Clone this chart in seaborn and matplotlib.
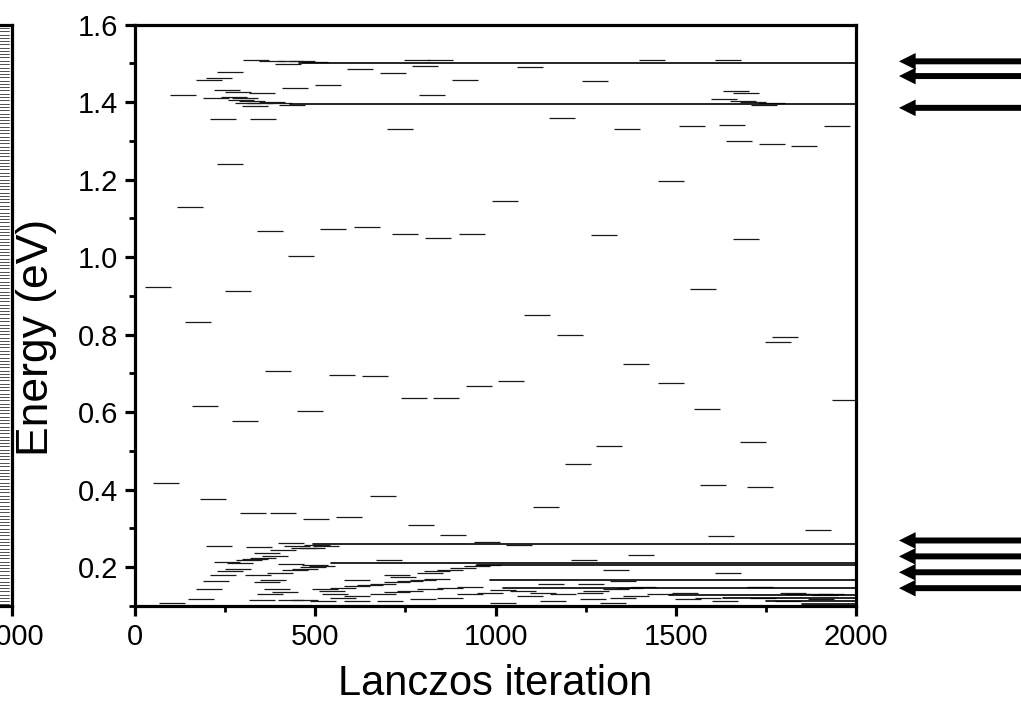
import matplotlib
matplotlib.use("Agg")
import matplotlib.pyplot as plt
import numpy as np
import pandas as pd
import seaborn as sns

# Converged eigenvalues (eV) and the iteration where each settles
level_energy = [1.501, 1.396, 0.260, 0.212, 0.206, 0.168, 0.146, 0.129, 0.120, 0.112, 0.106]
level_start = [455, 430, 495, 545, 950, 985, 1020, 1480, 1630, 1750, 1850]

# Isolated (spurious) Ritz values
spur_iter = [264, 233, 205, 624, 715, 782, 846, 805, 915, 133, 443, 535, 824, 244, 355, 735, 264,
             1434, 1645, 1096, 1276, 1667, 1695, 1634, 1184, 1365, 1545, 1656, 1947, 1675, 1767, 1856,
             64, 86, 152, 175, 194, 216, 286, 305, 327, 375, 397, 411, 460, 485, 502, 549, 574, 593,
             644, 666, 688, 749, 774, 793, 841, 863, 882, 935, 954, 976, 1026, 1043, 1115, 1140,
             1207, 1229, 1301, 1315, 1390, 1404, 1487, 1487, 1576, 1587, 1603, 1625, 1695, 1714,
             1734, 1784, 1803, 1895, 1970, 1065, 1246, 1335, 1645, 1734, 705, 616]
spur_energy = [1.478, 1.461, 1.458, 1.486, 1.476, 1.508, 1.509, 1.493, 1.457, 1.419, 1.437, 1.443, 1.419,
               1.356, 1.356, 1.331, 1.239,
               1.508, 1.508, 1.491, 1.455, 1.429, 1.424, 1.409, 1.360, 1.330, 1.339, 1.342, 1.338,
               1.299, 1.291, 1.287,
               0.923, 0.418, 1.130, 0.833, 0.617, 0.377, 0.913, 0.578, 0.341, 1.068, 0.707, 0.341,
               1.004, 0.603, 0.325, 1.073, 0.697, 0.329, 1.078, 0.694, 0.385, 1.060, 0.637, 0.310,
               1.050, 0.637, 0.284, 1.060, 0.668, 0.264, 1.144, 0.681, 0.850, 0.356, 0.799, 0.466,
               1.058, 0.514, 0.725, 0.231, 0.676, 1.197, 0.918, 0.609, 0.411, 0.280, 1.047, 0.523,
               0.408, 0.782, 0.795, 0.295, 0.632, 0.257, 0.218, 0.192, 0.185, 0.150, 0.218, 0.168]

# Ritz values drifting onto the converged levels
tail_iter = [335, 380, 433, 463, 424, 500,
             225, 255, 275, 286, 294, 305, 313, 324, 333, 347, 352, 380, 400, 435,
             1715, 1745, 1767, 1687,
             103, 183, 205, 225, 244, 264, 286, 233, 344, 433, 450, 366, 411, 469,
             255, 291, 316, 333, 355, 388, 432, 341, 402, 444, 472, 366, 383, 394, 416, 375,
             352, 433, 472,
             505, 530, 490, 500, 495, 520,
             547, 577, 616, 652, 689, 727, 763, 800, 838,
             727, 744, 819, 838, 874, 911, 948, 980,
             522, 577, 616, 689, 727, 763, 819, 874, 930,
             616, 708, 800, 874, 930, 985, 527, 555,
             1154, 1265, 1354, 1021, 1076, 1132, 1095, 1187, 1262, 1280, 1335, 1372, 1410,
             1160, 1270, 1354, 1391, 1456, 1021, 1326,
             1525, 1636, 1825, 1840, 1900, 1914, 1930, 1742, 1534, 1590, 1811, 1903]
tail_energy = [1.508, 1.507, 1.506, 1.505, 1.497, 1.503,
               1.410, 1.430, 1.413, 1.427, 1.405, 1.411, 1.398, 1.403, 1.391, 1.398, 1.423, 1.400,
               1.397, 1.393,
               1.400, 1.393, 1.398, 1.403,
               0.108, 0.119, 0.144, 0.165, 0.179, 0.189, 0.196, 0.256, 0.253, 0.263, 0.256, 0.237,
               0.244, 0.250,
               0.214, 0.211, 0.218, 0.222, 0.225, 0.230, 0.208, 0.179, 0.186, 0.192, 0.196, 0.163,
               0.168, 0.143, 0.137, 0.130,
               0.116, 0.116, 0.116,
               0.257, 0.254, 0.250, 0.206, 0.200, 0.204,
               0.139, 0.147, 0.151, 0.155, 0.158, 0.161, 0.164, 0.168, 0.169,
               0.179, 0.174, 0.186, 0.190, 0.194, 0.198, 0.202, 0.205,
               0.112, 0.121, 0.126, 0.130, 0.136, 0.139, 0.143, 0.147, 0.149,
               0.114, 0.112, 0.117, 0.121, 0.130, 0.134, 0.144, 0.130,
               0.157, 0.157, 0.164, 0.142, 0.139, 0.134, 0.126, 0.130, 0.133, 0.139, 0.143, 0.147,
               0.150,
               0.114, 0.117, 0.121, 0.126, 0.130, 0.109, 0.109,
               0.134, 0.114, 0.134, 0.131, 0.130, 0.128, 0.132, 0.121, 0.117, 0.121, 0.114, 0.119]

# Dense spectrum shown in the neighbouring panel (eV)
ladder_energy = [
    0.104, 0.112, 0.121, 0.129, 0.138, 0.146, 0.155, 0.163, 0.172, 0.180,
    0.189, 0.197, 0.206, 0.214, 0.223, 0.231, 0.240, 0.248, 0.257, 0.265,
    0.274, 0.282, 0.291, 0.299, 0.308, 0.316, 0.325, 0.333, 0.342, 0.350,
    0.359, 0.367, 0.376, 0.384, 0.393, 0.401, 0.410, 0.418, 0.427, 0.435,
    0.444, 0.452, 0.461, 0.469, 0.478, 0.486, 0.495, 0.503, 0.512, 0.520,
    0.529, 0.537, 0.546, 0.554, 0.563, 0.571, 0.580, 0.588, 0.597, 0.605,
    0.614, 0.622, 0.631, 0.639, 0.648, 0.656, 0.665, 0.673, 0.682, 0.690,
    0.699, 0.707, 0.716, 0.724, 0.733, 0.741, 0.750, 0.758, 0.767, 0.775,
    0.784, 0.792, 0.801, 0.809, 0.818, 0.826, 0.835, 0.843, 0.852, 0.860,
    0.869, 0.877, 0.886, 0.894, 0.903, 0.911, 0.920, 0.928, 0.937, 0.945,
    0.954, 0.962, 0.971, 0.979, 0.988, 0.996, 1.005, 1.013, 1.022, 1.030,
    1.039, 1.047, 1.056, 1.064, 1.073, 1.081, 1.090, 1.098, 1.107, 1.115,
    1.124, 1.132, 1.141, 1.149, 1.158, 1.166, 1.175, 1.183, 1.192, 1.200,
    1.209, 1.217, 1.226, 1.234, 1.243, 1.251, 1.260, 1.268, 1.277, 1.285,
    1.294, 1.302, 1.311, 1.319, 1.328, 1.336, 1.345, 1.353, 1.362, 1.370,
    1.379, 1.387, 1.396, 1.404, 1.413, 1.421, 1.430, 1.438, 1.447, 1.455,
    1.464, 1.472, 1.481, 1.489, 1.498, 1.506, 1.515, 1.523, 1.532, 1.540,
    1.549, 1.557, 1.566, 1.574, 1.583, 1.591,
]

# Target states marked with arrows (eV)
marked_levels = [1.505, 1.467, 1.385, 0.269, 0.228, 0.187, 0.146]

x_ticks = [0, 500, 1000, 1500, 2000]
x_minor = [250, 750, 1250, 1750]
y_ticks = [0.2, 0.4, 0.6, 0.8, 1.0, 1.2, 1.4, 1.6]
y_minor = [0.1, 0.3, 0.5, 0.7, 0.9, 1.1, 1.3, 1.5]

sns.set_style("ticks")
plt.rcParams["font.family"] = ["Liberation Sans", "DejaVu Sans"]
plt.rcParams.update({
    "axes.linewidth": 2.3,
    "axes.edgecolor": "black",
    "axes.labelcolor": "black",
    "text.color": "black",
    "xtick.color": "black",
    "ytick.color": "black",
})

W, H = 1021, 717
fig = plt.figure(figsize=(W / 100, H / 100), dpi=100)

x0, x1 = 135, 856
y_top, y_bot = 24.5, 606
ax = fig.add_axes([x0 / W, 1 - y_bot / H, (x1 - x0) / W, (y_bot - y_top) / H])

ritz = pd.DataFrame({
    "iteration": spur_iter + tail_iter,
    "energy": spur_energy + tail_energy,
})
sns.scatterplot(data=ritz, x="iteration", y="energy", marker="_", s=350,
                color="#1a1a1a", linewidth=0.9, ax=ax, legend=False, zorder=3)

rows = []
for k, (e, s) in enumerate(zip(level_energy, level_start)):
    rows.append({"level": k, "iteration": s, "energy": e})
    rows.append({"level": k, "iteration": 2000, "energy": e})
lines = pd.DataFrame(rows)
sns.lineplot(data=lines, x="iteration", y="energy", units="level", estimator=None,
             color="black", linewidth=1.2, ax=ax, legend=False, zorder=4)

ax.set_xlim(0, 2000)
ax.set_ylim(0.1, 1.6)
ax.set_xticks(x_ticks)
ax.set_xticks(x_minor, minor=True)
ax.set_yticks(y_ticks)
ax.set_yticklabels([f"{v:.1f}" for v in y_ticks])
ax.set_yticks(y_minor, minor=True)
ax.tick_params(which="major", direction="out", length=7, width=2.3, labelsize=21, pad=5)
ax.tick_params(which="minor", direction="out", length=4, width=2.0)
for sp in ax.spines.values():
    sp.set_visible(True)
    sp.set_linewidth(2.3)

ax.set_xlabel("Lanczos iteration", fontsize=30)
ax.set_ylabel("Energy (eV)", fontsize=32)
ax.xaxis.set_label_coords(0.5, -0.10)
ax.yaxis.set_label_coords(-0.108, 0.461)

# Arrows marking the target states
for e in marked_levels:
    ax.annotate("", xy=(1.0596, e), xytext=(1.30, e),
                xycoords=ax.get_yaxis_transform(), textcoords=ax.get_yaxis_transform(),
                annotation_clip=False,
                arrowprops=dict(arrowstyle="simple,head_length=12,head_width=12,tail_width=4.3",
                                mutation_scale=1, color="black", lw=0, shrinkA=0, shrinkB=0))

# Neighbouring panel (only its right edge is in view)
ax0 = fig.add_axes([(12 - (x1 - x0)) / W, 1 - y_bot / H, (x1 - x0) / W, (y_bot - y_top) / H])
ladder_rows = []
for k, e in enumerate(ladder_energy):
    ladder_rows.append({"level": k, "iteration": 1200, "energy": e})
    ladder_rows.append({"level": k, "iteration": 1992, "energy": e})
ladder = pd.DataFrame(ladder_rows)
sns.lineplot(data=ladder, x="iteration", y="energy", units="level", estimator=None,
             color="#333333", linewidth=0.6, ax=ax0, legend=False)
ax0.set_xlim(0, 2000)
ax0.set_ylim(0.1, 1.6)
ax0.set_xlabel("")
ax0.set_ylabel("")
ax0.set_xticks([2000])
ax0.set_yticks([])
ax0.tick_params(which="major", direction="out", length=7, width=2.3, labelsize=21, pad=5)
for sp in ax0.spines.values():
    sp.set_linewidth(2.3)

fig.savefig("out.png", dpi=100)
